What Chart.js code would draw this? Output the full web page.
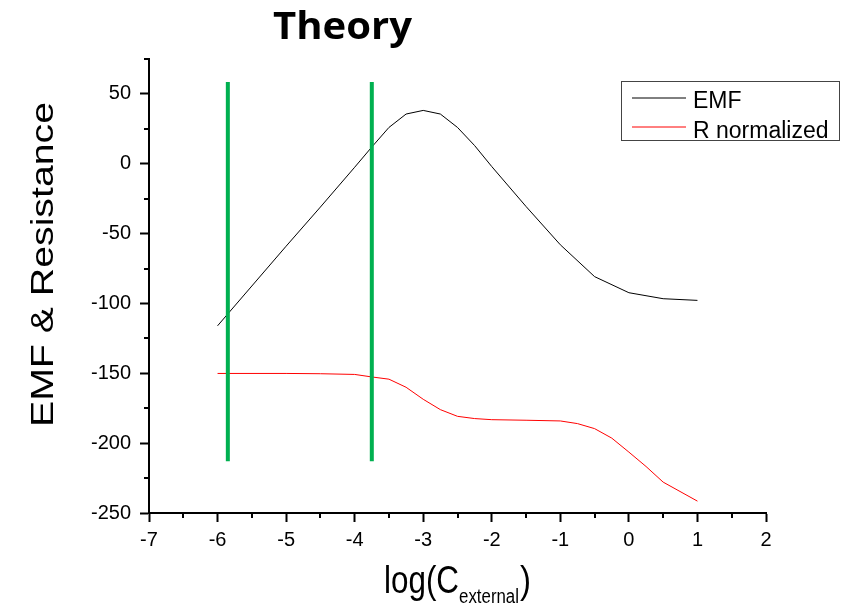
<!DOCTYPE html>
<html>
<head>
<meta charset="utf-8">
<script src="https://cdn.jsdelivr.net/npm/chart.js@4.4.0/dist/chart.umd.min.js"></script>
<style>
  html, body { margin: 0; padding: 0; background: #fff; }
</style>
</head>
<body>
<canvas id="chart" width="854" height="606"></canvas>
<script>
// EMF curve
const emfX = [-6, -5.5, -5, -4.5, -4, -3.75, -3.5, -3.25, -3, -2.75, -2.5, -2.25, -2, -1.5, -1, -0.5, 0, 0.5, 1];
const emfY = [-116, -87.5, -59, -31, -2.5, 12, 26, 35.6, 38.2, 35.6, 26, 13, -2, -30.6, -58, -80.8, -92.3, -96.6, -97.8];
// R normalized curve
const resX = [-6, -5, -4.5, -4, -3.75, -3.5, -3.25, -3, -2.75, -2.5, -2.25, -2, -1.5, -1, -0.75, -0.5, -0.25, 0, 0.25, 0.5, 1];
const resY = [-150.1, -150.1, -150.3, -150.8, -152.6, -154.2, -160, -168.6, -176, -180.8, -182.4, -183.2, -183.6, -184.1, -186, -189.6, -196.4, -206.4, -216.7, -227.9, -241.5];
// green vertical markers
const markerX = [-5.85, -3.75];
const markerTop = 58.6;
const markerBottom = -213;
// axes
const xMin = -7, xMax = 2, xStep = 1;
const yMin = -250, yMax = 75, yStep = 50;

const toPoints = (xs, ys) => xs.map((x, i) => ({ x: x, y: ys[i] }));

const datasets = markerX.map(x => ({
  data: [{ x: x, y: markerTop }, { x: x, y: markerBottom }],
  borderColor: '#00b050',
  borderWidth: 4,
  borderCapStyle: 'butt',
  showLine: true,
  pointRadius: 0
}));
datasets.push({
  label: 'EMF',
  data: toPoints(emfX, emfY),
  borderColor: '#000000',
  borderWidth: 1,
  showLine: true,
  pointRadius: 0,
  tension: 0
});
datasets.push({
  label: 'R normalized',
  data: toPoints(resX, resY),
  borderColor: '#ff0000',
  borderWidth: 1,
  showLine: true,
  pointRadius: 0,
  tension: 0
});

// text squeezed/stretched to a given width
function fitText(ctx, text, x, y, font, width, align) {
  ctx.save();
  ctx.font = font;
  const w = ctx.measureText(text).width;
  ctx.translate(x, y);
  ctx.scale(width / w, 1);
  ctx.textAlign = align || 'left';
  ctx.textBaseline = 'alphabetic';
  ctx.fillStyle = '#000';
  ctx.fillText(text, 0, 0);
  ctx.restore();
}

const decor = {
  id: 'decor',
  afterDraw(chart) {
    const ctx = chart.ctx;
    const xs = chart.scales.x, ys = chart.scales.y;
    const area = chart.chartArea;

    // minor ticks
    ctx.save();
    ctx.strokeStyle = '#000';
    ctx.lineWidth = 2;
    ctx.beginPath();
    for (let v = xMin + xStep / 2; v < xMax; v += xStep) {
      const px = Math.round(xs.getPixelForValue(v));
      ctx.moveTo(px, area.bottom);
      ctx.lineTo(px, area.bottom + 5);
    }
    for (let v = yMin + yStep / 2; v <= yMax; v += yStep / 2) {
      if (Math.abs(v % yStep) < 1e-6) continue;
      const py = Math.round(ys.getPixelForValue(v));
      ctx.moveTo(area.left - 5, py);
      ctx.lineTo(area.left, py);
    }
    ctx.stroke();
    ctx.restore();

    // title
    fitText(ctx, 'Theory', 273, 39, 'bold 38px "Open Sans"', 139, 'left');

    // y title
    ctx.save();
    ctx.translate(53, 264.5);
    ctx.rotate(-Math.PI / 2);
    fitText(ctx, 'EMF & Resistance', 0, 0, '32px "Liberation Sans"', 325, 'center');
    ctx.restore();

    // x title with subscript
    fitText(ctx, 'log(C', 384, 593, '39px "Liberation Sans"', 75, 'left');
    fitText(ctx, 'external', 459, 602.7, '20px "Liberation Sans"', 60, 'left');
    fitText(ctx, ')', 520, 593, '39px "Liberation Sans"', 11, 'left');

    // legend
    ctx.save();
    ctx.strokeStyle = '#444';
    ctx.lineWidth = 1;
    ctx.strokeRect(621.5, 81.5, 218, 59);
    const entries = chart.data.datasets.filter(d => d.label);
    entries.forEach((d, i) => {
      const ly = 98 + i * 29;
      ctx.strokeStyle = d.borderColor;
      ctx.lineWidth = 1;
      ctx.beginPath();
      ctx.moveTo(632, ly);
      ctx.lineTo(686, ly);
      ctx.stroke();
      ctx.font = '23px "Liberation Sans"';
      ctx.fillStyle = '#000';
      ctx.textBaseline = 'alphabetic';
      ctx.fillText(d.label, 693, 108.3 + i * 30);
    });
    ctx.restore();
  }
};

const tickFont = { family: '"Liberation Sans", Arial', size: 20 };

new Chart(document.getElementById('chart'), {
  type: 'scatter',
  data: { datasets: datasets },
  options: {
    responsive: false,
    devicePixelRatio: 1,
    animation: false,
    layout: { padding: { top: 59, right: 88, left: 0, bottom: 0 } },
    plugins: {
      legend: { display: false },
      title: { display: false },
      tooltip: { enabled: false }
    },
    scales: {
      x: {
        type: 'linear',
        min: xMin,
        max: xMax,
        ticks: { stepSize: xStep, font: tickFont, color: '#000', padding: 6 },
        grid: { drawOnChartArea: false, drawTicks: true, tickLength: 9, tickWidth: 2, tickColor: '#000' },
        border: { display: true, color: '#000', width: 2 },
        afterFit: s => { s.height = 93; }
      },
      y: {
        min: yMin,
        max: yMax,
        ticks: { stepSize: yStep, includeBounds: false, font: tickFont, color: '#000', padding: 9 },
        grid: { drawOnChartArea: false, drawTicks: true, tickLength: 9, tickWidth: 2, tickColor: '#000' },
        border: { display: true, color: '#000', width: 2 },
        afterFit: s => { s.width = 149; }
      }
    }
  },
  plugins: [decor]
});
</script>
</body>
</html>
